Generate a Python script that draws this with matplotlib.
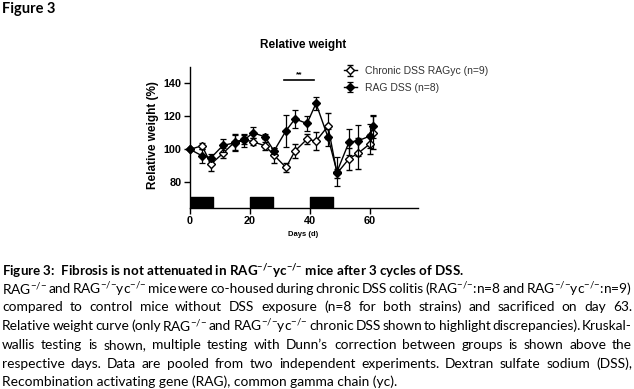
import matplotlib
matplotlib.use("Agg")
import matplotlib.pyplot as plt
from matplotlib.transforms import IdentityTransform

plt.rcParams["mathtext.fontset"] = "custom"
plt.rcParams["mathtext.rm"] = "Lato"
plt.rcParams["mathtext.it"] = "Lato:italic"
plt.rcParams["mathtext.bf"] = "Lato:bold"

# weights (mean +/- SEM, % of day 0)
days = [0, 4, 7, 11, 15, 18, 21, 25, 28, 32, 35, 39, 42, 46, 49, 53, 56, 60, 61]
chronic = [100, 102.2, 91.1, 97.6, 104.6, 106, 104.6, 102.2, 96.5, 89, 99, 106.2, 105, 114.1, 85.4, 94.3, 97.6, 103.4, 110]
chronic_sem = [0, 1.8, 4.2, 3, 4.8, 3, 2, 2.5, 4.6, 3, 4.5, 3, 5.5, 8, 2.5, 6.6, 9.4, 6, 10]
rag = [100, 96.1, 94.9, 102.4, 104, 105.5, 110.1, 107.6, 99, 111.3, 118.5, 115.7, 127.9, 107.3, 86.4, 104.4, 105.2, 108.1, 114.1]
rag_sem = [0, 4.4, 2, 4, 4.8, 4, 3.2, 1.5, 2, 9.7, 5.3, 4.4, 4, 5, 8.7, 8, 9.5, 7, 7]

dss_start = [0, 20, 40]
dss_len = 7.5
sig_days = [31.4, 41.4]
sig_label = "**"

W, H = 634, 389
fig = plt.figure(figsize=(W / 100, H / 100), dpi=100)
fig.patch.set_facecolor("white")

ax = fig.add_axes([190 / W, (H - 208) / H, (418 - 190) / W, (208 - 67) / H])
ax.errorbar(days, chronic, yerr=chronic_sem, color="black", lw=1, marker="D", ms=4,
            mfc="white", mec="black", mew=1, capsize=2.5, elinewidth=0.9, capthick=0.9,
            clip_on=False, zorder=3, label="Chronic DSS RAGyc (n=9)")
ax.errorbar(days, rag, yerr=rag_sem, color="black", lw=1, marker="D", ms=3.6,
            mfc="black", mec="black", capsize=2.5, elinewidth=0.9, capthick=0.9,
            clip_on=False, zorder=4, label="RAG DSS (n=8)")

# DSS cycles
ax.broken_barh([(s, dss_len) for s in dss_start], (65, 6), color="black", zorder=2)

# significance
ax.plot(sig_days, [142, 142], color="black", lw=1.2, clip_on=False)
ax.text(sum(sig_days) / 2, 143, sig_label, ha="center", va="bottom", fontsize=6,
        fontweight="bold", family="Liberation Sans")

ax.set_xlim(0, 76)
ax.set_ylim(64.4, 150)
ax.set_xticks([0, 20, 40, 60])
ax.set_yticks([80, 100, 120, 140])
for s in ["top", "right"]:
    ax.spines[s].set_visible(False)
for s in ["left", "bottom"]:
    ax.spines[s].set_linewidth(1)
ax.tick_params(length=4, width=1, pad=2)
for lab in ax.get_xticklabels() + ax.get_yticklabels():
    lab.set_family("Liberation Sans")
    lab.set_fontweight("bold")
    lab.set_fontsize(7.8)

leg = ax.legend(loc="upper left", bbox_to_anchor=(344 / W, 1 - 66 / H), bbox_transform=fig.transFigure,
                frameon=False, handlelength=1.2, handletextpad=0.8, labelspacing=0.65,
                borderpad=0, borderaxespad=0, prop={"family": "Liberation Sans", "size": 7.5})
for t in leg.get_texts():
    t.set_color("#333333")

fig.text(303 / W, 1 - 45 / H, "Relative weight", ha="center", va="center", fontsize=8.5,
         fontweight="bold", family="Liberation Sans")
fig.text(153 / W, 1 - 135 / H, "Relative weight (%)", ha="center", va="center", rotation=90,
         fontsize=8.5, fontweight="bold", family="Liberation Sans")
fig.text(303 / W, 1 - 234.5 / H, "Days (d)", ha="center", va="center", fontsize=5.5,
         fontweight="bold", family="Liberation Sans")

fig.text(2 / W, 1 - 9 / H, "Figure 3", ha="left", va="center", fontsize=10.5,
         fontweight="bold", family="Lato")

# caption
S = r"$^{{-}/{-}}$"
SB = r"$^{\mathbf{{-}/{-}}}$"
heading = "Figure 3:  Fibrosis is not attenuated in RAG" + SB + "yc" + SB + " mice after 3 cycles of DSS."
body = [
    "RAG" + S + " and RAG" + S + "yc" + S + " mice were co-housed during chronic DSS colitis (RAG" + S + ":n=8 and RAG" + S + "yc" + S + ":n=9)",
    "compared to control mice without DSS exposure (n=8 for both strains) and sacrificed on day 63.",
    "Relative weight curve (only RAG" + S + " and RAG" + S + "yc" + S + " chronic DSS shown to highlight discrepancies). Kruskal-",
    "wallis testing is shown, multiple testing with Dunn\u2019s correction between groups is shown above the",
    "respective days. Data are pooled from two independent experiments. Dextran sulfate sodium (DSS),",
    "Recombination activating gene (RAG), common gamma chain (yc).",
]
line_y = [289, 307, 326, 345, 364, 382]
body_size = 9.9

fig.text(2, H - 271, heading, transform=IdentityTransform(), ha="left", va="center",
         fontsize=9.6, fontweight="bold", family="Lato")

r = fig.canvas.get_renderer()
x0, x1 = 2, 632
for i, (line, y) in enumerate(zip(body, line_y)):
    if i == len(body) - 1:
        fig.text(x0, H - y, line, transform=IdentityTransform(), ha="left", va="center",
                 fontsize=body_size, family="Lato")
        continue
    words = line.split(" ")
    texts = [fig.text(0, H - y, w, transform=IdentityTransform(), ha="left", va="center",
                      fontsize=body_size, family="Lato") for w in words]
    widths = [t.get_window_extent(r).width for t in texts]
    gap = (x1 - x0 - sum(widths)) / (len(words) - 1)
    x = x0
    for t, wd in zip(texts, widths):
        t.set_x(x)
        x += wd + gap

fig.savefig("out.png", dpi=100, facecolor="white")
